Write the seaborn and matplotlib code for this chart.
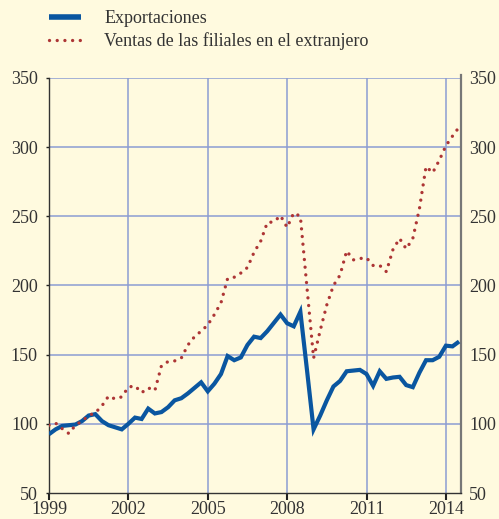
import numpy as np
import pandas as pd
import matplotlib
matplotlib.use("Agg")
import matplotlib.pyplot as plt
import seaborn as sns

# Quarterly data, 1999Q1 .. 2014Q3 (index 1999 = 100)
exportaciones = [92.5, 96, 98.5, 99, 99.5, 102, 106, 107, 102, 99,
                 97.5, 96, 100, 104.5, 103.5, 111, 107.5, 108.5, 112, 117,
                 118.5, 122, 126, 130, 123.5, 129, 136, 149, 146, 148,
                 157, 163, 162, 167, 173, 179, 172.7, 170.5, 181, 139,
                 96, 106, 117, 127, 131, 138, 138.5, 139, 136, 127.5,
                 138, 132.5, 133.5, 134, 128, 126.5, 137, 146, 146, 148.5,
                 156.5, 156, 159.5]
ventas_filiales = [99, 100.5, 96.5, 93, 99, 102, 106, 108, 113, 120,
                   118, 119.5, 126.5, 127.5, 122.5, 126, 124, 142, 145, 145.5,
                   147.5, 157, 163, 167, 171.5, 179, 187.5, 205, 206, 209,
                   213, 224, 232, 245.5, 246, 250.5, 242, 252.5, 250, 198.5,
                   147.5, 167.5, 186, 200, 207.5, 225, 218.5, 219.5, 220, 214.5,
                   214.5, 210, 226, 234, 226.5, 234, 255.5, 286, 281.5, 290.5,
                   301, 308, 314.5]
start_year = 1999
year_ticks = [1999, 2002, 2005, 2008, 2011, 2014]
y_ticks = [50, 100, 150, 200, 250, 300, 350]
label_exp = "Exportaciones"
label_ven = "Ventas de las filiales en el extranjero"

t = [start_year + i / 4 for i in range(len(exportaciones))]
df = pd.DataFrame({"t": t, "exp": exportaciones, "ven": ventas_filiales})

sns.set_theme(style="white")
plt.rcParams["font.family"] = ["Liberation Serif", "DejaVu Serif"]

bg = "#fffadf"
grid_c = "#8c9dd2"
blue = "#0a56a0"
red = "#ad3535"
txt = "#333333"

fig = plt.figure(figsize=(4.99, 5.19), dpi=100, facecolor=bg)
ax = fig.add_axes([49 / 499, 1 - 493 / 519, (460.7 - 49) / 499, (493 - 78) / 519])
ax.set_facecolor(bg)

sns.lineplot(data=df, x="t", y="exp", ax=ax, color=blue, lw=3.0,
             solid_joinstyle="miter", solid_capstyle="butt",
             label=label_exp, zorder=3, legend=False)
sns.lineplot(data=df, x="t", y="ven", ax=ax, color=red, lw=2.4,
             linestyle=(0, (0.01, 2.3)), dash_capstyle="round",
             label=label_ven, zorder=4, legend=False)

ax.set_xlim(1999, 2014.56)
ax.set_ylim(50, 350)
ax.set_xticks(year_ticks)
ax.set_xticklabels([str(y) for y in year_ticks])
ax.set_yticks(y_ticks)
ax.set_xlabel("")
ax.set_ylabel("")

for y in y_ticks[1:]:
    ax.axhline(y, color=grid_c, lw=1.1, zorder=1)
for x in year_ticks[1:]:
    ax.axvline(x, color=grid_c, lw=1.1, zorder=1)

ax.spines["top"].set_visible(False)
ax.spines["left"].set_color("#333333")
ax.spines["left"].set_linewidth(1.0)
ax.spines["bottom"].set_color("#333333")
ax.spines["bottom"].set_linewidth(1.0)
ax.spines["right"].set_color("#777777")
ax.spines["right"].set_linewidth(1.6)
ax.spines["right"].set_bounds(50, 352)

ax.tick_params(axis="x", direction="out", length=5, width=1.5, color="#222222",
               labelsize=13, labelcolor=txt, pad=1, bottom=True)
ax.tick_params(axis="y", direction="out", length=2, width=1, color="#222222",
               labelsize=13, labelcolor=txt, pad=6, left=True, right=False)

ax2 = ax.twinx()
ax2.set_ylim(50, 350)
ax2.set_yticks(y_ticks)
ax2.tick_params(axis="y", length=0, labelsize=13, labelcolor=txt, pad=6)
for s in ax2.spines.values():
    s.set_visible(False)

handles, labels = ax.get_legend_handles_labels()
leg = fig.legend(handles, labels, loc="upper left", bbox_to_anchor=(0.066, 1.012),
                 frameon=False, fontsize=13, handlelength=1.75,
                 handletextpad=1.3, labelspacing=0.28, labelcolor=txt)
leg.get_lines()[0].set_linewidth(4.0)

fig.savefig("out.png", dpi=100, facecolor=bg)
